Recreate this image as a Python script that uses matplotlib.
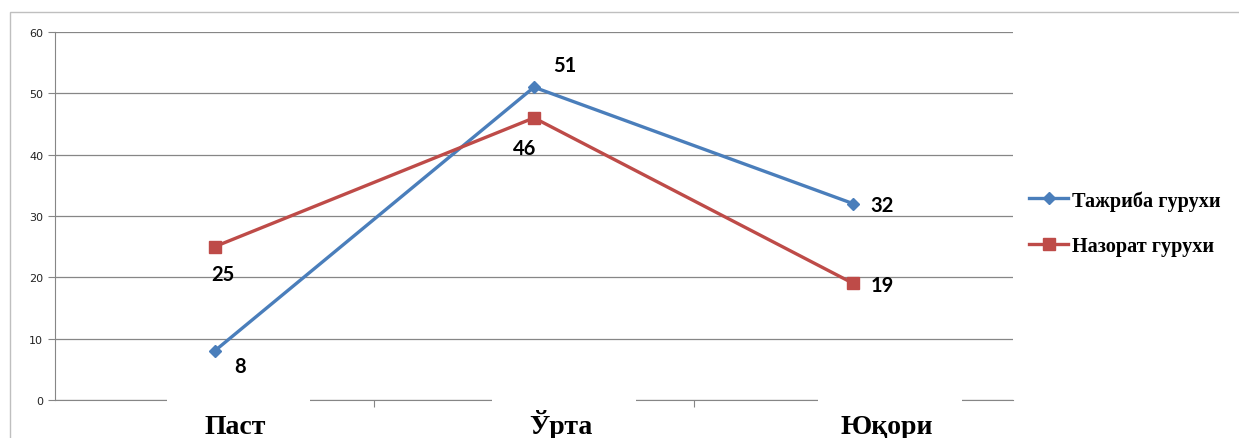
import matplotlib
matplotlib.use("Agg")
import matplotlib.pyplot as plt
from matplotlib.patches import Rectangle

categories = ["Паст", "Ўрта", "Юқори"]
tajriba = [8, 51, 32]
nazorat = [25, 46, 19]
names = ["Тажриба гурухи", "Назорат гурухи"]

blue = "#4a7ebb"
red = "#be4b48"
grid = "#868686"

fig = plt.figure(figsize=(12.39, 4.39), dpi=100)
ax = fig.add_axes([55 / 1239, 1 - 401 / 439, 958 / 1239, 368 / 439])

# outer chart frame
fig.patches.append(Rectangle((10 / 1239, -0.1), 1.2, 1 - 13 / 439 + 0.1,
                             transform=fig.transFigure, fill=False,
                             edgecolor="#bfbfbf", lw=1.0))

x = range(len(categories))
ax.plot(x, tajriba, color=blue, lw=2.4, marker="D", ms=6.5, label=names[0], zorder=3)
ax.plot(x, nazorat, color=red, lw=2.4, marker="s", ms=8, label=names[1], zorder=3)

ax.set_xlim(-0.5, 2.5)
ax.set_ylim(0, 60)
ax.set_yticks(range(0, 61, 10))
ax.yaxis.grid(True, color=grid, lw=0.9)
ax.set_axisbelow(True)
for s in ["top", "right"]:
    ax.spines[s].set_visible(False)
ax.spines["left"].set_color(grid)
ax.spines["bottom"].set_color(grid)
ax.tick_params(axis="y", colors=grid, labelcolor="#222222", labelsize=8, length=5)
ax.set_xticks([0.5, 1.5])
ax.set_xticklabels([])
ax.tick_params(axis="x", colors=grid, length=5)

# category labels, each with a white patch breaking the axis line
for i, c in enumerate(categories):
    ax.annotate(c, (i * 1.02 + 0.065, 0), xycoords=("data", "axes fraction"),
                xytext=(0, -24), textcoords="offset points", ha="center", va="baseline",
                fontsize=20, fontweight="bold", family="Liberation Serif",
                annotation_clip=False, zorder=5)
    ax.add_patch(Rectangle((i * 1.02 - 0.15, -0.01), 0.45, 0.02,
                           transform=ax.get_xaxis_transform(),
                           facecolor="white", edgecolor="none", clip_on=False, zorder=4))

lab = dict(fontsize=14.5, fontweight="bold", family="Lato", color="black",
           textcoords="offset points")
offs_t = [(18, -11), (22, 16), (21, -1)]
offs_n = [(6, -20), (-6.5, -22), (21, -1)]
for i, v in enumerate(tajriba):
    ax.annotate(str(v), (i, v), xytext=offs_t[i], ha="center", va="center", **lab)
for i, v in enumerate(nazorat):
    ax.annotate(str(v), (i, v), xytext=offs_n[i], ha="center", va="center", **lab)

leg = fig.legend(loc="center left", bbox_to_anchor=(1011 / 1239, 1 - 224 / 439),
                 frameon=False, handlelength=1.9, handletextpad=0.2, labelspacing=1.25,
                 prop=dict(family="Liberation Serif", weight="bold", size=14.6))

fig.savefig("out.png", dpi=100)
